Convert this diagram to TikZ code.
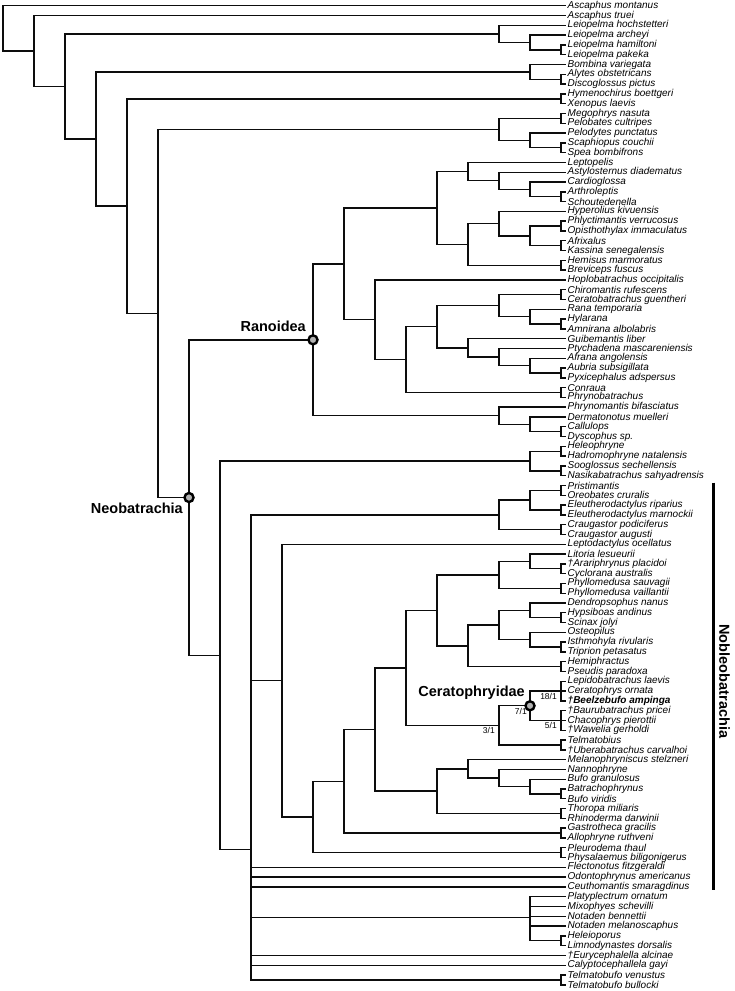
\documentclass[tikz,border=0pt]{standalone}
\usepackage{fontspec}
\setmainfont{Liberation Sans}
\usepackage{tikz}
\usepackage{xcolor}

\tikzset{
  branch/.style={line width=1.4pt, black!95, line join=miter},
  leaf/.style={anchor=west, inner xsep=1.5pt, inner ysep=0pt, font=\fontsize{10}{10}\selectfont\itshape},
  cladedot/.style={circle, draw=black, fill=gray!60, line width=2.4pt, minimum size=9pt, inner sep=0pt},
  cladelab/.style={font=\fontsize{14.5}{15}\selectfont\bfseries, inner sep=0pt},
  supp/.style={font=\fontsize{8.5}{9}\selectfont, inner sep=1pt, anchor=north east}
}

\begin{document}
\begin{tikzpicture}[x=1pt,y=-9.79pt]
  \useasboundingbox (0,0.4076) rectangle (735,101.634);

  % taxa
  \foreach \i/\lab in {1/Ascaphus montanus,2/Ascaphus truei,3/Leiopelma hochstetteri,4/Leiopelma archeyi,
    5/Leiopelma hamiltoni,6/Leiopelma pakeka,7/Bombina variegata,8/Alytes obstetricans,9/Discoglossus pictus,
    10/Hymenochirus boettgeri,11/Xenopus laevis,12/Megophrys nasuta,13/Pelobates cultripes,14/Pelodytes punctatus,
    15/Scaphiopus couchii,16/Spea bombifrons,17/Leptopelis,18/Astylosternus diadematus,19/Cardioglossa,
    20/Arthroleptis,21/Schoutedenella,22/Hyperolius kivuensis,23/Phlyctimantis verrucosus,
    24/Opisthothylax immaculatus,25/Afrixalus,26/Kassina senegalensis,27/Hemisus marmoratus,28/Breviceps fuscus,
    29/Hoplobatrachus occipitalis,30/Chiromantis rufescens,31/Ceratobatrachus guentheri,32/Rana temporaria,
    33/Hylarana,34/Amnirana albolabris,35/Guibemantis liber,36/Ptychadena mascareniensis,37/Afrana angolensis,
    38/Aubria subsigillata,39/Pyxicephalus adspersus,40/Conraua,41/Phrynobatrachus,42/Phrynomantis bifasciatus,
    43/Dermatonotus muelleri,44/Callulops,45/Dyscophus sp.,46/Heleophryne,47/Hadromophryne natalensis,
    48/Sooglossus sechellensis,49/Nasikabatrachus sahyadrensis,50/Pristimantis,51/Oreobates cruralis,
    52/Eleutherodactylus riparius,53/Eleutherodactylus marnockii,54/Craugastor podiciferus,55/Craugastor augusti,
    56/Leptodactylus ocellatus,57/Litoria lesueurii,58/†Arariphrynus placidoi,59/Cyclorana australis,
    60/Phyllomedusa sauvagii,61/Phyllomedusa vaillantii,62/Dendropsophus nanus,63/Hypsiboas andinus,
    64/Scinax jolyi,65/Osteopilus,66/Isthmohyla rivularis,67/Triprion petasatus,68/Hemiphractus,
    69/Pseudis paradoxa,70/Lepidobatrachus laevis,71/Ceratophrys ornata,72/{\bfseries †Beelzebufo ampinga},
    73/†Baurubatrachus pricei,74/Chacophrys pierottii,75/†Wawelia gerholdi,76/Telmatobius,
    77/†Uberabatrachus carvalhoi,78/Melanophryniscus stelzneri,79/Nannophryne,80/Bufo granulosus,
    81/Batrachophrynus,82/Bufo viridis,83/Thoropa miliaris,84/Rhinoderma darwinii,85/Gastrotheca gracilis,
    86/Allophryne ruthveni,87/Pleurodema thaul,88/Physalaemus biligonigerus,89/Flectonotus fitzgeraldi,
    90/Odontophrynus americanus,91/Ceuthomantis smaragdinus,92/Platyplectrum ornatum,93/Mixophyes schevilli,
    94/Notaden bennettii,95/Notaden melanoscaphus,96/Heleioporus,97/Limnodynastes dorsalis,
    98/†Eurycephalella alcinae,99/Calyptocephallela gayi,100/Telmatobufo venustus,101/Telmatobufo bullocki} {
    \node[leaf] (L\i) at (566,\i) {\lab};
  }

  % backbone
  \coordinate (root) at (3,3.3102);
  \coordinate (n18) at (34,5.6204);
  \coordinate (n17) at (65,9.2408);
  \coordinate (n16) at (96,14.6065);
  \coordinate (n15) at (127,21.4630);
  \coordinate (n14) at (158,32.4260);
  \coordinate (neo) at (189,51.2270);
  \coordinate (n12) at (220,67.3349);
  \coordinate (n11) at (251,87.1697);
  \coordinate (n10) at (282,69.9277);
  \coordinate (n9) at (313,83.8555);
  \coordinate (n8) at (344,80.2109);
  \coordinate (n7) at (375,74.9219);
  \coordinate (n6) at (406,68.625);

  % archaeobatrachians
  \coordinate (leio) at (499,3.875);
  \coordinate (leio2) at (530,4.75);
  \coordinate (leio1) at (561,5.5);
  \coordinate (bomb) at (530,7.75);
  \coordinate (bomb1) at (561,8.5);
  \coordinate (pip) at (561,10.5);
  \coordinate (pelo) at (499,13.625);
  \coordinate (pelo1) at (561,12.5);
  \coordinate (pelo2) at (530,14.75);
  \coordinate (pelo3) at (561,15.5);

  % Ranoidea
  \coordinate (rano) at (313,35.1191);
  \coordinate (n8r) at (344,27.3633);
  \coordinate (afro) at (437,21.6563);
  \coordinate (arth) at (468,17.9375);
  \coordinate (arth3) at (499,18.875);
  \coordinate (arth2) at (530,19.75);
  \coordinate (arth1) at (561,20.5);
  \coordinate (hyp) at (468,25.375);
  \coordinate (hyp3) at (499,23.25);
  \coordinate (hyp2) at (530,24.5);
  \coordinate (hyp1a) at (561,23.5);
  \coordinate (hyp1b) at (561,25.5);
  \coordinate (hem) at (561,27.5);
  \coordinate (n7r) at (375,33.0703);
  \coordinate (n6r) at (406,37.1406);
  \coordinate (n5r) at (437,33.7813);
  \coordinate (rhac) at (499,31.625);
  \coordinate (rhac1) at (561,30.5);
  \coordinate (ran2) at (530,32.75);
  \coordinate (ran1) at (561,33.5);
  \coordinate (pyx) at (468,35.9375);
  \coordinate (pyx3) at (499,36.875);
  \coordinate (pyx2) at (530,37.75);
  \coordinate (pyx1) at (561,38.5);
  \coordinate (conr) at (561,40.5);
  \coordinate (micro) at (499,42.875);
  \coordinate (micro2) at (530,43.75);
  \coordinate (micro1) at (561,44.5);

  % hyloids
  \coordinate (sooh) at (530,47.5);
  \coordinate (heleo) at (561,46.5);
  \coordinate (soog) at (561,48.5);
  \coordinate (brachy) at (499,53);
  \coordinate (brachy2) at (530,51.5);
  \coordinate (brachy1a) at (561,50.5);
  \coordinate (brachy1b) at (561,52.5);
  \coordinate (crau) at (561,54.5);
  \coordinate (hyla) at (437,62.75);
  \coordinate (pel3) at (499,59.125);
  \coordinate (pel2) at (530,57.75);
  \coordinate (pel1) at (561,58.5);
  \coordinate (phyl) at (561,60.5);
  \coordinate (hyl4) at (468,66.375);
  \coordinate (hyl3) at (499,64.25);
  \coordinate (hyl2a) at (530,62.75);
  \coordinate (hyl1a) at (561,63.5);
  \coordinate (hyl2b) at (530,65.75);
  \coordinate (hyl1b) at (561,66.5);
  \coordinate (hemi) at (561,68.5);
  \coordinate (cer3) at (499,74.5);
  \coordinate (cera) at (530,72.5);
  \coordinate (cer1a) at (561,71);
  \coordinate (cer1b) at (561,74);
  \coordinate (telmb) at (561,76.5);
  \coordinate (bufo) at (437,81.2188);
  \coordinate (bufo4) at (468,78.9375);
  \coordinate (bufo3) at (499,79.875);
  \coordinate (bufo2) at (530,80.75);
  \coordinate (bufo1) at (561,81.5);
  \coordinate (thor) at (561,83.5);
  \coordinate (gast) at (561,85.5);
  \coordinate (pleu) at (561,87.5);
  \coordinate (myob) at (530,94.1);
  \coordinate (myob1) at (561,96.5);
  \coordinate (telm) at (561,100.5);

  % branches
  \foreach \p/\c in {root/L1,root/n18,n18/L2,n18/n17,n17/leio,n17/n16,n16/bomb,n16/n15,n15/pip,n15/n14,
    n14/pelo,n14/neo,neo/rano,neo/n12,
    leio/L3,leio/leio2,leio2/L4,leio2/leio1,leio1/L5,leio1/L6,
    bomb/L7,bomb/bomb1,bomb1/L8,bomb1/L9,pip/L10,pip/L11,
    pelo/pelo1,pelo/pelo2,pelo1/L12,pelo1/L13,pelo2/L14,pelo2/pelo3,pelo3/L15,pelo3/L16}
    \draw[branch] (\p) |- (\c);
  \foreach \p/\c in {rano/n8r,rano/micro,n8r/afro,n8r/n7r,
    afro/arth,afro/hyp,arth/L17,arth/arth3,arth3/L18,arth3/arth2,arth2/L19,arth2/arth1,arth1/L20,arth1/L21,
    hyp/hyp3,hyp/hem,hyp3/L22,hyp3/hyp2,hyp2/hyp1a,hyp2/hyp1b,hyp1a/L23,hyp1a/L24,hyp1b/L25,hyp1b/L26,
    hem/L27,hem/L28,n7r/L29,n7r/n6r,n6r/n5r,n6r/conr,n5r/rhac,n5r/pyx,
    rhac/rhac1,rhac/ran2,rhac1/L30,rhac1/L31,ran2/L32,ran2/ran1,ran1/L33,ran1/L34,
    pyx/L35,pyx/pyx3,pyx3/L36,pyx3/pyx2,pyx2/L37,pyx2/pyx1,pyx1/L38,pyx1/L39,conr/L40,conr/L41,
    micro/L42,micro/micro2,micro2/L43,micro2/micro1,micro1/L44,micro1/L45}
    \draw[branch] (\p) |- (\c);
  \foreach \p/\c in {n12/sooh,n12/n11,sooh/heleo,sooh/soog,heleo/L46,heleo/L47,soog/L48,soog/L49,
    n11/brachy,n11/n10,n11/L89,n11/L90,n11/L91,n11/myob,n11/L98,n11/L99,n11/telm,
    brachy/brachy2,brachy/crau,brachy2/brachy1a,brachy2/brachy1b,brachy1a/L50,brachy1a/L51,
    brachy1b/L52,brachy1b/L53,crau/L54,crau/L55,
    n10/L56,n10/n9,n9/n8,n9/pleu,n8/n7,n8/gast,n7/n6,n7/bufo,n6/hyla,n6/cer3,
    hyla/pel3,hyla/hyl4,pel3/pel2,pel3/phyl,pel2/L57,pel2/pel1,pel1/L58,pel1/L59,phyl/L60,phyl/L61,
    hyl4/hyl3,hyl4/hemi,hyl3/hyl2a,hyl3/hyl2b,hyl2a/L62,hyl2a/hyl1a,hyl1a/L63,hyl1a/L64,
    hyl2b/L65,hyl2b/hyl1b,hyl1b/L66,hyl1b/L67,hemi/L68,hemi/L69,
    cer3/cera,cer3/telmb,cera/cer1a,cera/cer1b,cer1a/L70,cer1a/L71,cer1a/L72,
    cer1b/L73,cer1b/L74,cer1b/L75,telmb/L76,telmb/L77,
    bufo/bufo4,bufo/thor,bufo4/L78,bufo4/bufo3,bufo3/L79,bufo3/bufo2,bufo2/L80,bufo2/bufo1,
    bufo1/L81,bufo1/L82,thor/L83,thor/L84,gast/L85,gast/L86,pleu/L87,pleu/L88,
    myob/L92,myob/L93,myob/L94,myob/L95,myob/myob1,myob1/L96,myob1/L97,telm/L100,telm/L101}
    \draw[branch] (\p) |- (\c);

  % named clades
  \node[cladedot] (neodot) at (neo) {};
  \node[cladedot] (ranodot) at (rano) {};
  \node[cladedot] (ceradot) at (cera) {};
  \node[cladelab, anchor=base east] (neolab) at ([xshift=-6pt,yshift=-16pt]neo) {Neobatrachia};
  \node[cladelab, anchor=base east] (ranolab) at ([xshift=-7pt,yshift=8pt]rano) {Ranoidea};
  \node[cladelab, anchor=base east] (ceralab) at ([xshift=-5pt,yshift=9pt]cera) {Ceratophryidae};

  % support values
  \node[supp] (s18) at ([xshift=-3pt,yshift=-1pt]cer1a) {18/1};
  \node[supp] (s7) at ([xshift=-2pt,yshift=-1pt]cera) {7/1};
  \node[supp] (s5) at ([xshift=-3pt,yshift=-1pt]cer1b) {5/1};
  \node[supp] (s3) at ([xshift=-3pt,yshift=-1pt]cer3) {3/1};

  % Nobleobatrachia bar
  \coordinate (nbtop) at (713,49.7);
  \coordinate (nbbot) at (713,91.32);
  \draw[line width=3pt] (nbtop) -- (nbbot);
  \node[cladelab, rotate=-90] (nobleo) at (724.5,70) {Nobleobatrachia};
\end{tikzpicture}
\end{document}
